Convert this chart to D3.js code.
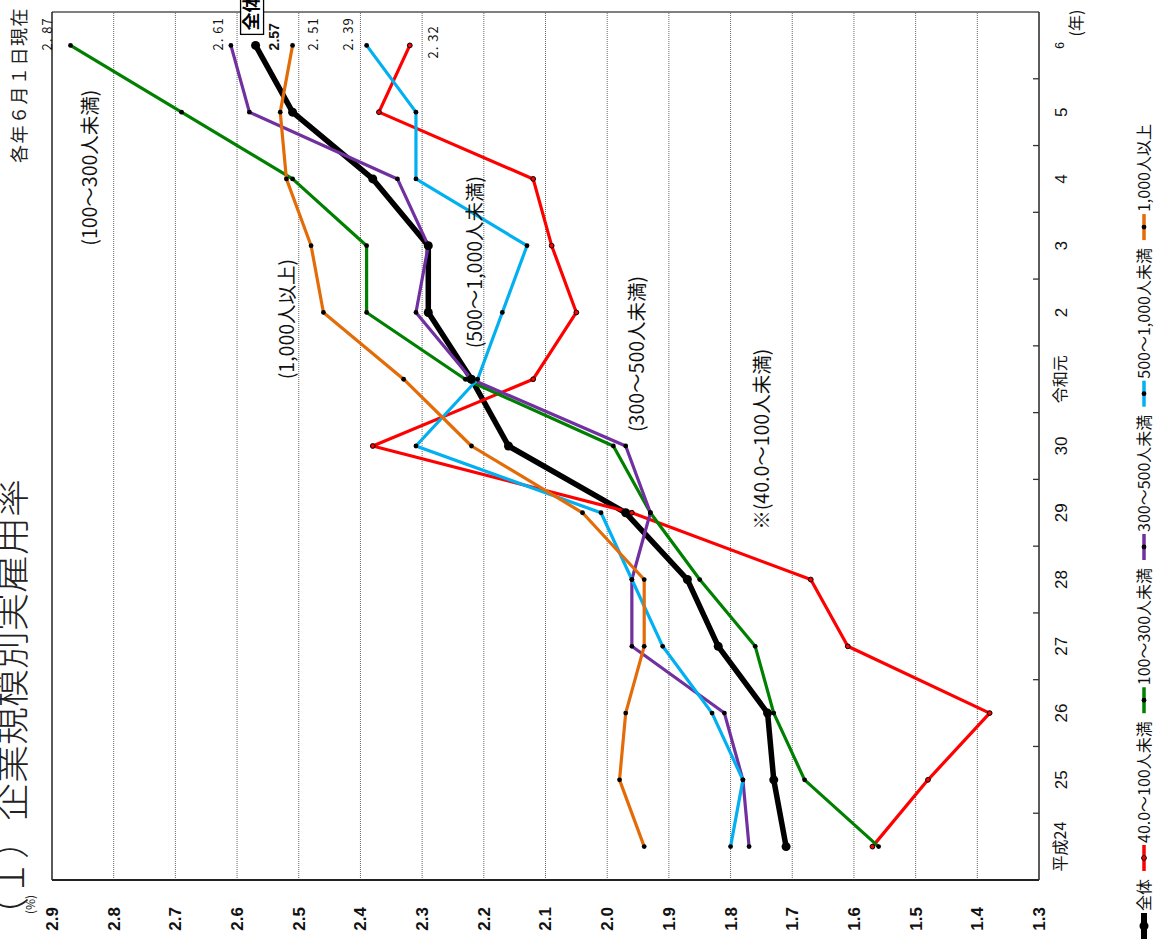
<!DOCTYPE html>
<html><head><meta charset="utf-8">
<script src="https://cdn.jsdelivr.net/npm/d3@7/dist/d3.min.js"></script>
<style>
body{margin:0;background:#fff;overflow:hidden}
svg{display:block}
text{font-family:"Noto Sans CJK JP","Noto Sans",sans-serif}
.num{font-family:"Liberation Sans Narrow","Liberation Sans",Arial,sans-serif}
</style>
</head><body>
<svg id="chart" width="1155" height="941"></svg>
<script>
// ---------------- data ----------------
const years = ["平成24","25","26","27","28","29","30","令和元","2","3","4","5","6"];
const valueTicks = [1.3,1.4,1.5,1.6,1.7,1.8,1.9,2.0,2.1,2.2,2.3,2.4,2.5,2.6,2.7,2.8,2.9];
const seriesNames = ["全体","40.0～100人未満","100～300人未満","300～500人未満","500～1,000人未満","1,000人以上"];
const seriesColors = ["#000000","#FF0000","#008000","#7030A0","#00B0F0","#E36C09"];
const total        = [1.71,1.73,1.74,1.82,1.87,1.97,2.16,2.22,2.29,2.29,2.38,2.51,2.57];
const size40to100  = [1.57,1.48,1.38,1.61,1.67,1.96,2.38,2.12,2.05,2.09,2.12,2.37,2.32];
const size100to300 = [1.56,1.68,1.73,1.76,1.85,1.93,1.99,2.23,2.39,2.39,2.51,2.69,2.87];
const size300to500 = [1.77,1.78,1.81,1.96,1.96,1.93,1.97,2.22,2.31,2.29,2.34,2.58,2.61];
const size500to1000= [1.80,1.78,1.83,1.91,1.96,2.01,2.31,2.21,2.17,2.13,2.31,2.31,2.39];
const size1000plus = [1.94,1.98,1.97,1.94,1.94,2.04,2.22,2.33,2.46,2.48,2.52,2.53,2.51];
const seriesValues = [total,size40to100,size100to300,size300to500,size500to1000,size1000plus];
const lastLabels = ["2.57","2.32","2.87","2.61","2.39","2.51"];
const annotations = [
  {text:"(100～300人未満)", year:"3", value:2.838},
  {text:"(1,000人以上)", year:"令和元", value:2.518},
  {text:"(500～1,000人未満)", year:"令和元", value:2.214, dx:31},
  {text:"(300～500人未満)", year:"30", value:1.952, dx:14},
  {text:"※(40.0～100人未満)", year:"29", value:1.748, dx:-17}
];
// label offsets (style config): [dx, dy] relative to last point
const lastLabelOffsets = [[-5,19],[-13,24],[-5,-23.5],[-5,-12],[-5,-18],[-5,21]];

// ---------------- layout (chart drawn in portrait, rotated -90deg) ----------------
const W = 941, H = 1155;
const svg = d3.select("#chart");
const g = svg.append("g").attr("transform", `translate(0,${W}) rotate(-90)`);
const x = d3.scaleBand().domain(years).range([61, 929]).padding(0);
const xc = d => x(d) + x.bandwidth()/2;
const y = d3.scaleLinear().domain([1.3, 2.9]).range([1039, 52]);

// grid
g.append("g").selectAll("line").data(valueTicks.slice(1,-1)).join("line")
  .attr("x1", 61).attr("x2", 929).attr("y1", d=>y(d)).attr("y2", d=>y(d))
  .attr("stroke", "#666").attr("stroke-width", 1).attr("stroke-dasharray", "1,1");

// frame
g.append("line").attr("x1",61).attr("x2",929).attr("y1",y(2.9)).attr("y2",y(2.9)).attr("stroke","#000").attr("stroke-width",1.3);
g.append("line").attr("x1",929).attr("x2",929).attr("y1",y(2.9)).attr("y2",y(1.3)).attr("stroke","#000").attr("stroke-width",1);
g.append("line").attr("x1",61).attr("x2",61).attr("y1",y(2.9)).attr("y2",y(1.3)).attr("stroke","#222").attr("stroke-width",2);
g.append("line").attr("x1",61).attr("x2",929).attr("y1",y(1.3)).attr("y2",y(1.3)).attr("stroke","#333").attr("stroke-width",1.6);

// value axis
const ya = g.append("g").attr("transform","translate(61,0)")
  .call(d3.axisLeft(y).tickValues(valueTicks).tickSize(0).tickPadding(27).tickFormat(d3.format(".1f")));
ya.select(".domain").remove();
ya.selectAll("text").attr("class","num").attr("font-size",17).attr("font-weight",700).attr("fill","#111");
g.append("text").attr("x",27).attr("y",31).attr("dy","0.35em").attr("font-size",12).attr("fill","#222").text("(%)");

// year axis
const xa = g.append("g").attr("transform",`translate(0,${y(1.3)})`)
  .call(d3.axisBottom(x).tickSize(0).tickPadding(16));
xa.select(".domain").remove();
xa.selectAll("text").attr("font-size",17).attr("fill","#111").attr("class", d => /^\d+$/.test(d) ? "num" : null);
xa.selectAll("text").filter(d => d === "平成24" || d === "令和元").attr("font-size",16);
xa.selectAll("text").filter(d => d === "6").attr("font-size",12);
g.append("g").selectAll("line").data(years.slice(1)).join("line")
  .attr("x1", d=>x(d)).attr("x2", d=>x(d)).attr("y1", y(1.3)).attr("y2", y(1.3)-6)
  .attr("stroke","#333").attr("stroke-width",1.3);
g.append("text").attr("x", xc("6")+9).attr("y", 1082).attr("font-size",16).attr("fill","#111").text("(年)");

// series lines
const line = d3.line().x((d,i)=>xc(years[i])).y(d=>y(d));
seriesValues.forEach((vals, si) => {
  const main = si === 0;
  g.append("path").datum(vals).attr("d", line).attr("fill","none")
    .attr("stroke", seriesColors[si]).attr("stroke-width", main ? 5.5 : 3.2)
    .attr("stroke-linejoin","round");
});
seriesValues.forEach((vals, si) => {
  const main = si === 0;
  g.append("g").selectAll("circle").data(vals).join("circle")
    .attr("cx",(d,i)=>xc(years[i])).attr("cy", d=>y(d))
    .attr("r", main ? 4.5 : 2.4)
    .attr("fill", si === 1 ? "#FF0000" : "#000")
    .attr("stroke", si === 1 ? "#000" : "none").attr("stroke-width", 1);
});

// last-value labels
const lastYear = years[years.length-1];
seriesValues.forEach((vals, si) => {
  const v = vals[vals.length-1];
  g.append("text").attr("x", xc(lastYear) + lastLabelOffsets[si][0])
    .attr("y", y(v) + lastLabelOffsets[si][1]).attr("dy","0.35em")
    .attr("font-size", si===0 ? 14 : 13).attr("font-weight", si===0 ? 700 : 400)
    .attr("fill","#111").attr("letter-spacing", si===0 ? 0 : 1)
    .attr("class", si===0 ? "num" : null)
    .text(si===0 ? lastLabels[si] : lastLabels[si].replace(".", ". "));
});
// boxed series name for 全体 (partly outside the picture, as in the source)
g.append("rect").attr("x", xc(lastYear)+11).attr("y", y(total[total.length-1])-15)
  .attr("width", 60).attr("height", 23).attr("fill","#fff").attr("stroke","#000").attr("stroke-width",1.3);
g.append("text").attr("x", xc(lastYear)+15).attr("y", y(total[total.length-1])-3.5).attr("dy","0.35em")
  .attr("font-size",18).attr("font-weight",700).text("全体");

// annotations
annotations.forEach(a => {
  g.append("text").attr("x", xc(a.year) + (a.dx||0)).attr("y", y(a.value)).attr("dy","0.35em")
    .attr("font-size",19.5).attr("fill","#111").text(a.text);
});

// title & note
g.append("text").attr("x",6).attr("y",24).attr("font-size",38).attr("font-weight",300).attr("fill","#222").text("（１）企業規模別実雇用率");
g.append("text").attr("x",934).attr("y",26).attr("text-anchor","end").attr("font-size",18).attr("letter-spacing",1.5).attr("fill","#222").text("各年６月１日現在");

// legend
const leg = g.append("g").attr("transform","translate(0,1144)");
let cx = 2;
seriesNames.forEach((name, si) => {
  const main = si === 0;
  const it = leg.append("g").attr("transform",`translate(${cx},0)`);
  it.append("line").attr("x1",0).attr("x2",26).attr("y1",0).attr("y2",0)
    .attr("stroke", seriesColors[si]).attr("stroke-width", main ? 6 : 3.5);
  it.append("circle").attr("cx",13).attr("cy",0).attr("r", main ? 4.5 : 2.4)
    .attr("fill", si===1 ? "#FF0000" : "#000").attr("stroke", si===1 ? "#000" : "none");
  const t = it.append("text").attr("x",28).attr("dy","0.35em").attr("font-size",16).attr("fill","#111").text(name);
  cx += 28 + t.node().getComputedTextLength() + 8;
});
</script>
</body></html>
